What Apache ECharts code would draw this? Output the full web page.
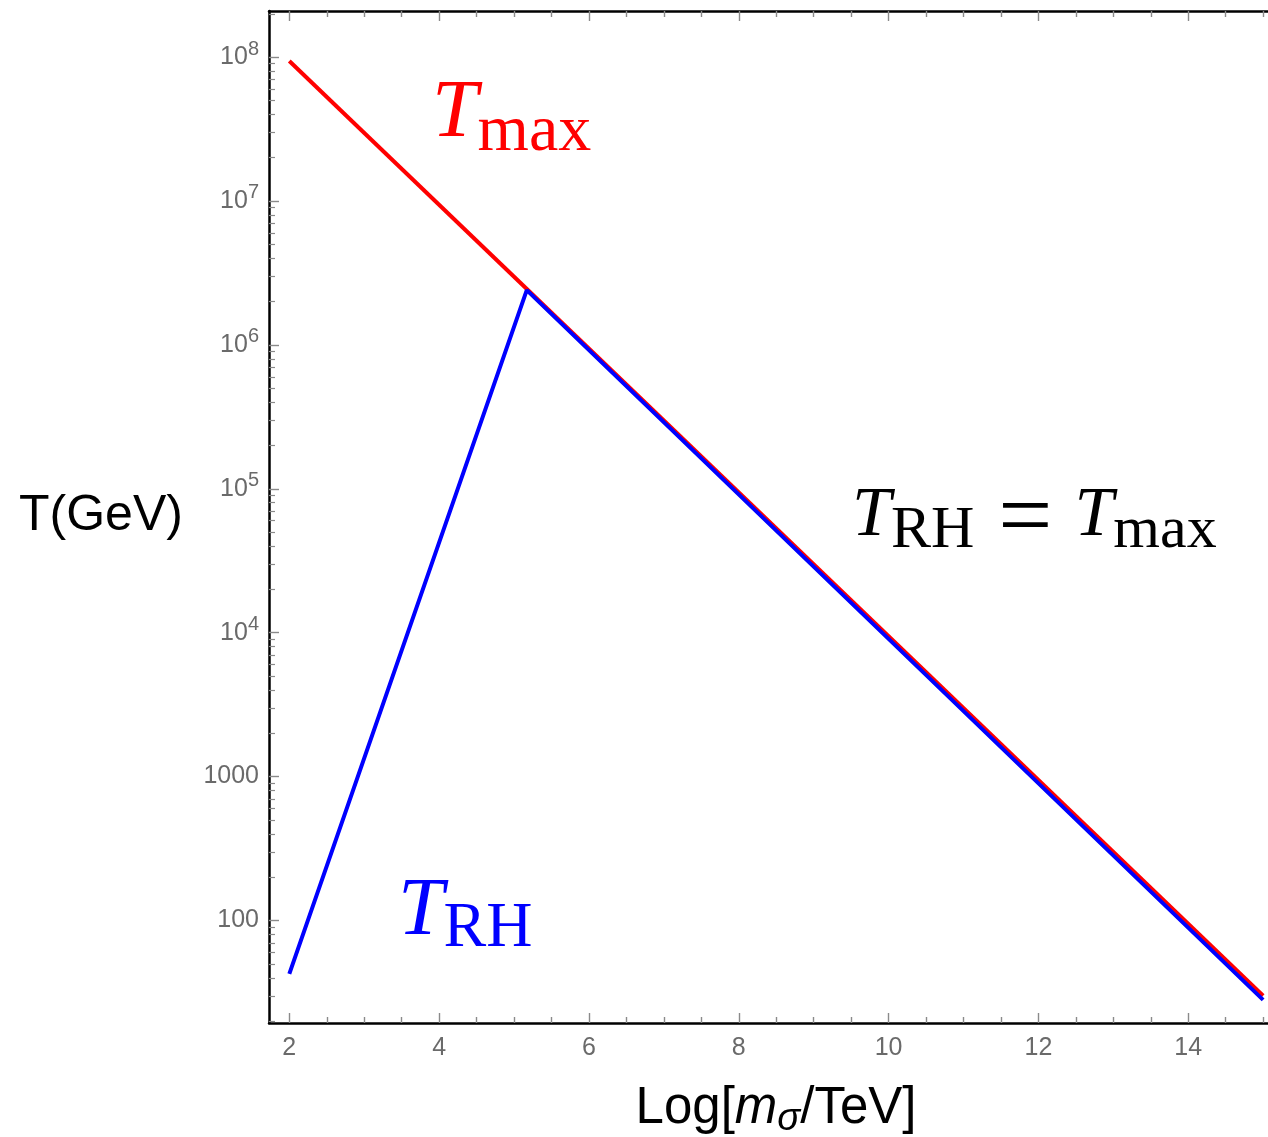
<!DOCTYPE html>
<html><head><meta charset="utf-8">
<script src="https://cdn.jsdelivr.net/npm/echarts@6/dist/echarts.min.js"></script>
<style>html,body{margin:0;padding:0;background:#fff}#c{width:1268px;height:1137px}</style>
</head><body><div id="c"></div>
<script>
// ---- data ----
const xRange = [1.729, 15.065];
const yRange = [19.4, 2.09e8];
const xMajorTicks = [2, 4, 6, 8, 10, 12, 14];
const xMinorTicks = [2.5, 3, 3.5, 4.5, 5, 5.5, 6.5, 7, 7.5, 8.5, 9, 9.5, 10.5, 11, 11.5, 12.5, 13, 13.5, 14.5, 15];
const yMinorTicks = [20, 30, 40, 50, 60, 70, 80, 90,
  200, 300, 400, 500, 600, 700, 800, 900,
  2000, 3000, 4000, 5000, 6000, 7000, 8000, 9000,
  2e4, 3e4, 4e4, 5e4, 6e4, 7e4, 8e4, 9e4,
  2e5, 3e5, 4e5, 5e5, 6e5, 7e5, 8e5, 9e5,
  2e6, 3e6, 4e6, 5e6, 6e6, 7e6, 8e6, 9e6,
  2e7, 3e7, 4e7, 5e7, 6e7, 7e7, 8e7, 9e7, 2e8];
const tMaxX = [2, 15];
const tMaxY = [9.4e7, 30];
const tRhX = [2, 5.17, 15];
const tRhY = [42.6, 2.4e6, 28.1];

const LBL = '#6a6a6a';
const TICK = '#8a8a8a';
const SANS = '"Liberation Sans", Arial, sans-serif';
const SERIF = '"Liberation Serif", "Times New Roman", serif';

const chart = echarts.init(document.getElementById('c'), null, {renderer: 'canvas'});
const grid = {left: 269, right: 0, top: 11, bottom: 114, containLabel: false};

function xAx(pos, ticks, len, line, labels) {
  return {
    type: 'value', position: pos, min: xRange[0], max: xRange[1],
    axisLine: {show: line, onZero: false, lineStyle: {color: '#000', width: 2.5}},
    axisTick: {show: true, inside: true, length: len, customValues: ticks, lineStyle: {color: TICK, width: 1.4}},
    axisLabel: labels ? {show: true, customValues: ticks, margin: 13, fontSize: 25, fontFamily: SANS, color: LBL} : {show: false},
    splitLine: {show: false}
  };
}

const option = {
  animation: false,
  backgroundColor: '#fff',
  grid: grid,
  xAxis: [
    xAx('bottom', xMajorTicks, 10, true, true),
    xAx('bottom', xMinorTicks, 6, false, false),
    xAx('top', xMajorTicks, 10, true, false),
    xAx('top', xMinorTicks, 6, false, false)
  ],
  yAxis: [
    {
      type: 'log', logBase: 10, position: 'left', min: yRange[0], max: yRange[1],
      axisLine: {show: true, onZero: false, lineStyle: {color: '#000', width: 2.5}},
      axisTick: {show: true, inside: true, length: 10, lineStyle: {color: TICK, width: 1.4}},
      axisLabel: {
        show: true, margin: 10, showMinLabel: false, showMaxLabel: false,
        fontSize: 25, fontFamily: SANS, color: LBL,
        formatter: function (v) {
          const e = Math.round(Math.log10(v));
          if (e < 4) return '{n|' + Math.round(v) + '}';
          return '{n|10}{s|' + e + '}';
        },
        rich: {
          n: {fontSize: 25, fontFamily: SANS, color: LBL},
          s: {fontSize: 20, fontFamily: SANS, color: LBL, padding: [0, 0, 16, 0]}
        }
      },
      splitLine: {show: false}
    },
    {
      type: 'value', position: 'left', min: Math.log10(yRange[0]), max: Math.log10(yRange[1]),
      axisLine: {show: false},
      axisTick: {show: true, inside: true, length: 6, customValues: yMinorTicks.map(Math.log10), lineStyle: {color: TICK, width: 1.2}},
      axisLabel: {show: false},
      splitLine: {show: false}
    }
  ],
  series: [
    {
      name: 'Tmax', type: 'line', xAxisIndex: 0, yAxisIndex: 0, showSymbol: false,
      data: tMaxX.map((x, i) => [x, tMaxY[i]]),
      lineStyle: {color: '#ff0000', width: 4}, itemStyle: {color: '#ff0000'}
    },
    {
      name: 'TRH', type: 'line', xAxisIndex: 0, yAxisIndex: 0, showSymbol: false,
      data: tRhX.map((x, i) => [x, tRhY[i]]),
      lineStyle: {color: '#0000ff', width: 4}, itemStyle: {color: '#0000ff'}
    }
  ],
  graphic: [
    {type: 'text', x: 19, y: 516, style: {text: 'T(GeV)', font: '50px ' + SANS, fill: '#000', align: 'left', verticalAlign: 'middle'}},
    {type: 'text', x: 776, y: 1109, style: {
      text: '{a|Log[}{m|m}{s|σ}{a|/TeV]}', align: 'center', verticalAlign: 'middle',
      rich: {
        a: {fontSize: 51, fontFamily: SANS, fill: '#000'},
        m: {fontSize: 51, fontFamily: SANS, fontStyle: 'italic', fill: '#000'},
        s: {fontSize: 38, fontFamily: SANS, fontStyle: 'italic', fill: '#000', padding: [20, 0, 0, 0]}
      }}},
    {type: 'text', x: 432, y: 114.6, style: {
      text: '{t|T}{s|max}', align: 'left', verticalAlign: 'middle',
      rich: {
        t: {fontSize: 82, fontFamily: SERIF, fontStyle: 'italic', fill: '#ff0000'},
        s: {fontSize: 66, fontFamily: SERIF, fill: '#ff0000', padding: [36, 0, 0, 0]}
      }}},
    {type: 'text', x: 852, y: 516.3, style: {
      text: '{t|T}{s|RH}{e|=}{t|T}{s|max}', align: 'left', verticalAlign: 'middle',
      rich: {
        t: {fontSize: 70, fontFamily: SERIF, fontStyle: 'italic', fill: '#000'},
        s: {fontSize: 60, fontFamily: SERIF, fill: '#000', padding: [30, 0, 0, 0]},
        e: {fontSize: 96, fontFamily: SERIF, fill: '#000', padding: [10, 22, 0, 24]}
      }}},
    {type: 'text', x: 398, y: 912.6, style: {
      text: '{t|T}{s|RH}', align: 'left', verticalAlign: 'middle',
      rich: {
        t: {fontSize: 82, fontFamily: SERIF, fontStyle: 'italic', fill: '#0000ff'},
        s: {fontSize: 64, fontFamily: SERIF, fill: '#0000ff', padding: [34, 0, 0, 0]}
      }}}
  ]
};
chart.setOption(option);
</script>
</body></html>
